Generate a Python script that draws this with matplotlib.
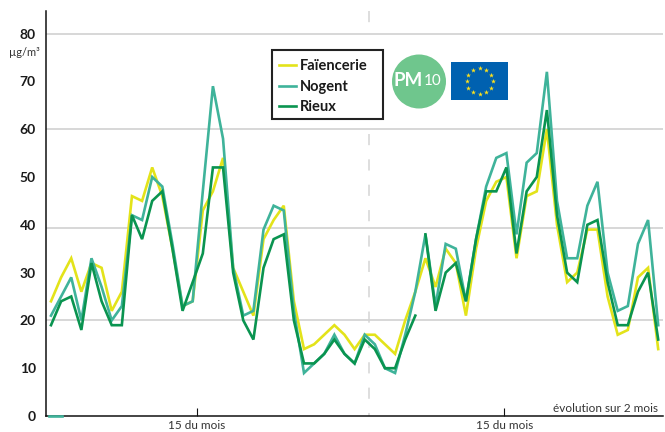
# PM10 chart, evolution sur 2 mois
import math
import matplotlib
matplotlib.use('Agg')
import matplotlib.pyplot as plt
from matplotlib.patches import Circle, Rectangle

plt.rcParams['font.family'] = ['Lato', 'DejaVu Sans']

faiencerie = [24, 29, 33, 26, 32, 31, 22, 26, 46, 45, 52, 46, 35, 23, 24, 43, 47, 54, 31, 26,
              21, 37, 41, 44, 24, 14, 15, 17, 19, 17, 14, 17, 17, 15, 13, 20, 26, 33, 27, 35,
              32, 21, 35, 45, 49, 50, 33, 46, 47, 60, 40, 28, 30, 39, 39, 25, 17, 18, 29, 31, 14]
nogent = [21, 25, 29, 20, 33, 27, 20, 23, 42, 41, 50, 48, 36, 23, 24, 47, 69, 58, 31, 21,
          22, 39, 44, 43, 22, 9, 11, 13, 17, 13, 11, 17, 15, 10, 9, 17, 26, 38, 23, 36,
          35, 24, 37, 48, 54, 55, 38, 53, 55, 72, 45, 33, 33, 44, 49, 30, 22, 23, 36, 41, 19]
# Rieux has a hole between day 36 and day 37
rieux_debut = [19, 24, 25, 18, 32, 24, 19, 19, 42, 37, 45, 47, 35, 22, 28, 34, 52, 52, 30, 20,
               16, 31, 37, 38, 20, 11, 11, 13, 16, 13, 11, 16, 14, 10, 10, 16, 21]
rieux_fin = [38, 22, 30, 32, 24, 37, 47, 47, 52, 34, 47, 50, 64, 42, 30, 28, 40, 41, 28, 19, 19, 26, 30, 16]

y_ticks = [0, 10, 20, 30, 40, 50, 60, 70, 80]
grid_values = [20, 39.4, 60, 80]
month_ticks = [14.4, 44.8]
split_day = 31.4

JAUNE = '#e3e31a'
TURQ = '#3fb39a'
VERT = '#0a9450'
W, H = 665, 432

fig = plt.figure(figsize=(W / 100, H / 100), dpi=100, facecolor='w')
ax = fig.add_axes([45.5 / W, 1 - 416 / H, (663 - 45.5) / W, (416 - 11) / H])

days = list(range(len(faiencerie)))
ax.plot(days, faiencerie, color=JAUNE, lw=1.9, solid_joinstyle='miter', label='Faïencerie')
ax.plot(days, nogent, color=TURQ, lw=1.9, solid_joinstyle='miter', label='Nogent')
ax.plot(days[:37], rieux_debut, color=VERT, lw=1.9, solid_joinstyle='miter', label='Rieux')
ax.plot(days[37:], rieux_fin, color=VERT, lw=1.9, solid_joinstyle='miter')
ax.plot([-0.2, 1.1], [0, 0], color=TURQ, lw=1.9, clip_on=False, zorder=5)

# x: 51px is day 0, 10.12px per day
ax.set_xlim((45.5 - 51) / 10.12, (663 - 51) / 10.12)
ax.set_ylim(0, (416 - 11) / 4.78)

for g in grid_values:
    ax.axhline(g, color='#d4d4d4', lw=1.3, zorder=0)
ax.plot([split_day, split_day], [84.7, 79.8], color='#d4d4d4', lw=1.1, ls=(0, (7.3, 9.3)), zorder=0)
ax.plot([split_day, split_day], [59, 0], color='#d4d4d4', lw=1.1, ls=(0, (7.3, 9.3)), zorder=0)

for s in ['top', 'right']:
    ax.spines[s].set_visible(False)
for s in ['left', 'bottom']:
    ax.spines[s].set_linewidth(1.1)
    ax.spines[s].set_color('#111111')

ax.set_yticks(y_ticks)
ax.set_yticklabels([str(v) for v in y_ticks], fontsize=10, fontweight='bold', color='#1a1a1a')
ax.tick_params(axis='y', length=0, pad=7)
ax.set_xticks(month_ticks)
ax.set_xticklabels(['15 du mois', '15 du mois'], fontsize=8.5, color='#333333')
ax.tick_params(axis='x', direction='in', length=6, width=0.8, pad=3, color='#111111')

# overlay in pixel coordinates for the badges and small texts
ov = fig.add_axes([0, 0, 1, 1], zorder=3)
ov.set_xlim(0, W)
ov.set_ylim(H, 0)
ov.axis('off')

ov.text(24, 53, 'µg/m³', fontsize=8, color='#333333', ha='center', va='center')
ov.text(658, 408, 'évolution sur 2 mois', fontsize=8.5, color='#333333', ha='right', va='center')

ov.add_patch(Circle((419, 81.5), 27, color='#6fc68d', lw=0))
ov.text(423, 81, 'PM', fontsize=13.5, color='w', ha='right', va='center', fontweight='bold')
ov.text(424, 81, '10', fontsize=11, color='w', ha='left', va='center')

ov.add_patch(Rectangle((451, 62), 57, 38, color='#0061b0', lw=0))
stars_x = [479.5 + 13 * math.sin(i * math.pi / 6) for i in range(12)]
stars_y = [81 - 13 * math.cos(i * math.pi / 6) for i in range(12)]
ov.scatter(stars_x, stars_y, marker='*', s=14, color='#ffe11a', lw=0)

# legend box drawn by hand, it is wider than what legend() would pad
ov.add_patch(Rectangle((272, 50), 111, 69, facecolor='w', edgecolor='#222222', lw=1.5))
leg = fig.legend(handles=ax.get_lines()[:3], loc='upper left', bbox_to_anchor=(279 / W, 1 - 59.5 / H),
                 borderaxespad=0, frameon=False, prop={'size': 10.5, 'weight': 'bold'},
                 handlelength=1.15, handletextpad=0.3, labelspacing=0.42, borderpad=0,
                 labelcolor='#1a1a1a')
leg.set_zorder(4)

fig.savefig('out.png', dpi=100, facecolor='w')
